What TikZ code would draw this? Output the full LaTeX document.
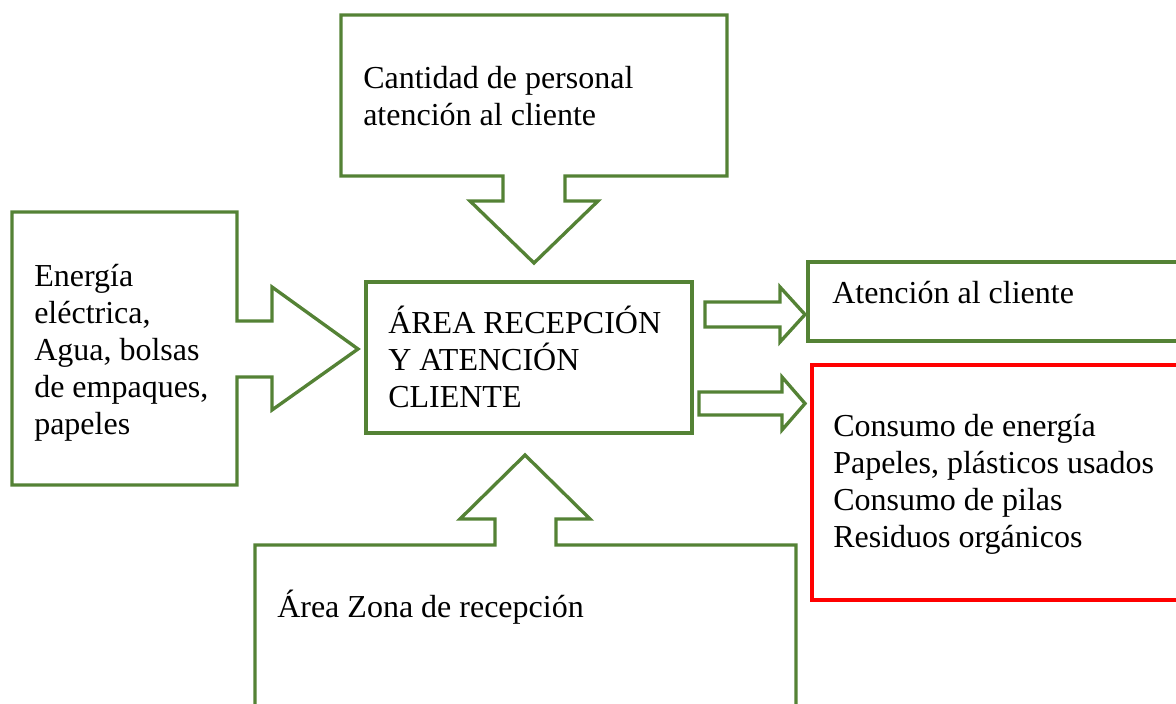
\documentclass[tikz,border=0pt]{standalone}
\usepackage{fontspec}
\setmainfont{Liberation Serif}
\definecolor{lgreen}{RGB}{84,130,53}
\definecolor{lred}{RGB}{255,0,0}
\begin{document}
\begin{tikzpicture}[x=0.75pt,y=-0.75pt,
  gshape/.style={draw=lgreen,line width=2.5pt,line join=miter,fill=white},
  redshape/.style={draw=lred,line width=2.5pt,fill=white},
  txt/.style={anchor=base west,inner sep=0pt,align=left,font=\fontsize{24}{27.6}\selectfont}]
\clip (0,0) rectangle (1176,703);
\useasboundingbox (0,0) rectangle (1176,703);
% top callout
\draw[gshape] (341,15) -- (727,15) -- (727,176) -- (565,176) -- (565,201) -- (598,201) -- (534,263) -- (470,201) -- (503,201) -- (503,176) -- (341,176) -- cycle;
% left callout
\draw[gshape] (12,212) -- (237,212) -- (237,321) -- (272,321) -- (272,287) -- (358,349) -- (272,410) -- (272,377) -- (237,377) -- (237,485) -- (12,485) -- cycle;
% bottom callout
\draw[gshape] (255,720) -- (255,545) -- (495,545) -- (495,519) -- (460,519) -- (525,455) -- (590,519) -- (556,519) -- (556,545) -- (796,545) -- (796,720);
% centre box
\draw[gshape] (366,282) rectangle (692,433);
% right arrows
\draw[gshape] (705,302) -- (780,302) -- (780,287) -- (805,314.5) -- (780,342) -- (780,327) -- (705,327) -- cycle;
\draw[gshape] (699,392) -- (782,392) -- (782,377) -- (805,403.5) -- (782,430) -- (782,415) -- (699,415) -- cycle;
% right boxes
\draw[gshape] (808,262) rectangle (1200,341);
\draw[redshape] (812,365) rectangle (1200,600);
% texts (anchored at the baseline of the last line)
\node[txt] (ttop) at (363,125) {Cantidad de personal\\atención al cliente};
\node[txt] (tleft) at (34,434) {Energía\\eléctrica,\\Agua, bolsas\\de empaques,\\papeles};
\node[txt] (tcen) at (388,407) {ÁREA RECEPCIÓN\\Y ATENCIÓN\\CLIENTE};
\node[txt] (tat) at (832,303) {Atención al cliente};
\node[txt] (tred) at (833,547) {Consumo de energía\\Papeles, plásticos usados\\Consumo de pilas\\Residuos orgánicos};
\node[txt] (tbot) at (277,617) {Área Zona de recepción};
\end{tikzpicture}
\end{document}
